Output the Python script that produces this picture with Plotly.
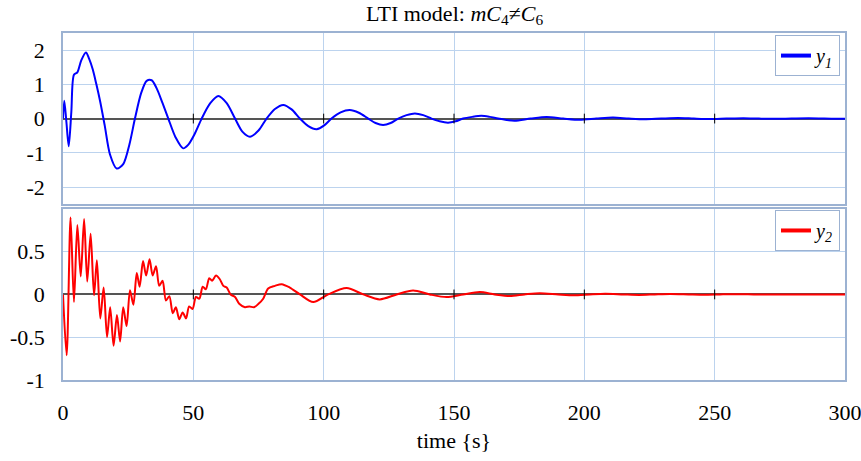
import plotly.graph_objects as go
from plotly.subplots import make_subplots

# ---- data ----
t1 = [0, 0.5, 1.3, 2.2, 3.2, 4.2, 5.5, 7.0, 8.8, 10.0, 11.4, 12.8, 14.2, 16.0, 18.0, 20.6, 23.1,
      25.5, 27.6, 30.0, 32.1, 34.0, 35.9, 38.2, 40.4, 43.2, 46.1, 48.0, 50.5, 53.2, 56.5, 59.6,
      62.8, 66.0, 68.8, 71.7, 75.0, 78.1, 81.3, 84.5, 87.7, 90.9, 94.1, 97.3, 100.2, 103.0,
      106.5, 110.0, 113.5, 117.1, 119.9, 122.8, 125.7, 128.6, 131.8, 135.0, 138.2, 141.4,
      144.5, 147.7, 150.6, 153.5, 157.0, 160.5, 163.7, 166.9, 170.1, 173.3, 179.4, 185.5,
      191.9, 198.2, 204.6, 211, 217, 223, 229.5, 236, 242, 248, 254.5, 261, 267, 273, 279.5,
      286, 292, 298, 300]
y1 = [0, 0.52, -0.1, -0.81, 0.2, 1.28, 1.35, 1.7, 1.93, 1.75, 1.44, 1.0, 0.52, -0.2, -1.04,
      -1.46, -1.33, -0.75, 0, 0.75, 1.10, 1.12, 0.89, 0.45, 0, -0.55, -0.87, -0.77, -0.45, 0,
      0.45, 0.66, 0.45, 0, -0.38, -0.53, -0.35, 0, 0.28, 0.40, 0.27, 0, -0.22, -0.31, -0.2, 0,
      0.18, 0.25, 0.17, 0, -0.13, -0.19, -0.13, 0, 0.1, 0.15, 0.1, 0, -0.08, -0.12, -0.08, 0,
      0.05, 0.08, 0.05, 0, -0.04, -0.06, 0, 0.045, 0, -0.035, 0, 0.03, 0, -0.022, 0, 0.018, 0,
      -0.014, 0, 0.011, 0, -0.008, 0, 0.006, 0, -0.005, -0.004]

t2 = [0, 1.4, 2.9, 4.2, 5.5, 6.8, 8.1, 9.3, 10.6, 11.9, 13.0, 14.3, 15.6, 16.9, 18.1, 19.4,
      20.7, 21.9, 23.1, 24.4, 25.7, 27.0, 28.3, 29.4, 30.7, 31.9, 33.2, 34.4, 35.7, 36.9, 38.2,
      39.5, 40.8, 42.1, 43.3, 44.6, 45.9, 47.2, 48.4, 49.7, 51.0, 52.3, 53.6, 54.8, 56.1, 57.2,
      58.7, 60.1, 61.5, 62.8, 64.3, 66.0, 67.6, 69.8, 71.5, 73.3, 75.0, 76.8, 78.7, 81.3, 83.9,
      87.0, 90.9, 96.0, 101.7, 108.8, 115.2, 121.5, 128.0, 134.3, 140.7, 147.1, 153.5, 159.9,
      165.6, 171.4, 177.0, 182.9, 190, 196, 202, 208, 215, 221, 227, 233, 240, 246, 252, 258,
      265, 271, 277, 300]
y2 = [0, -0.71, 0.90, -0.09, 0.81, 0.21, 0.88, 0.15, 0.71, -0.01, 0.40, -0.28, 0.08, -0.50,
      -0.15, -0.60, -0.24, -0.55, -0.15, -0.37, 0.05, -0.12, 0.25, 0.09, 0.39, 0.22, 0.41, 0.22,
      0.33, 0.10, 0.16, -0.07, -0.02, -0.22, -0.15, -0.29, -0.21, -0.28, -0.14, -0.17, -0.03,
      -0.05, 0.09, 0.06, 0.19, 0.16, 0.22, 0.18, 0.10, 0.08, 0, -0.03, -0.11, -0.15, -0.14,
      -0.15, -0.11, -0.05, 0.07, 0.10, 0.12, 0.08, 0, -0.09, 0, 0.074, 0, -0.058, 0, 0.047, 0,
      -0.031, 0, 0.027, 0, -0.018, 0, 0.015, 0, -0.01, 0, 0.008, 0, -0.006, 0, 0.005, 0,
      -0.004, 0, 0.003, 0, -0.002, 0, 0]

x_ticks = [0, 50, 100, 150, 200, 250, 300]
y1_ticks = [-2, -1, 0, 1, 2]
y1_labels = ["-2", "-1", "0", "1", "2"]
y2_ticks = [-1, -0.5, 0, 0.5]
y2_labels = ["-1", "-0.5", "0", "0.5"]
series_names = ["<i>y</i><sub><i>1</i></sub>", "<i>y</i><sub><i>2</i></sub>"]

FONT = "Liberation Serif"
GRID = "#bcd3ee"
BORDER = "#9cb2d2"
COLORS = ["#0000ff", "#ff0000"]

fig = make_subplots(rows=2, cols=1, shared_xaxes=True, vertical_spacing=0.0135)

for i, (tt, yy) in enumerate([(t1, y1), (t2, y2)]):
    fig.add_trace(go.Scatter(x=tt, y=yy, mode="lines",
                             line=dict(color=COLORS[i], width=2, shape="spline", smoothing=0.8),
                             showlegend=False, hoverinfo="x+y"), row=i + 1, col=1)
    # legend entry (thicker key line as in the reference)
    fig.add_trace(go.Scatter(x=[None], y=[None], mode="lines",
                             line=dict(color=COLORS[i], width=4),
                             name=series_names[i], legend="legend" if i == 0 else "legend2"),
                  row=i + 1, col=1)

inner = x_ticks[1:-1]
for r in (1, 2):
    fig.add_trace(go.Scatter(x=inner, y=[0] * len(inner), mode="markers",
                             marker=dict(symbol="line-ns", size=7, line=dict(color="black", width=1)),
                             showlegend=False, hoverinfo="skip"), row=r, col=1)

axis_common = dict(showline=True, mirror=True, linecolor=BORDER, linewidth=1.5,
                   showgrid=True, gridcolor=GRID, gridwidth=1, automargin=False,
                   tickfont=dict(family=FONT, size=22, color="black"), ticks="")

fig.update_xaxes(range=[0, 300], tickvals=x_ticks, zeroline=False, ticklabeloverflow="allow",
                 **axis_common)
fig.update_xaxes(showticklabels=False, row=1, col=1)
fig.update_xaxes(ticklabelstandoff=12, row=2, col=1,
                 title=dict(text="time {s}", font=dict(family=FONT, size=22, color="black"), standoff=8))

fig.update_yaxes(range=[-2.5, 2.5], tickvals=y1_ticks, ticktext=y1_labels, row=1, col=1,
                 zeroline=True, zerolinecolor="#555555", zerolinewidth=1.5,
                 ticklabelstandoff=12, **axis_common)
fig.update_yaxes(range=[-1, 1], tickvals=y2_ticks, ticktext=y2_labels, row=2, col=1,
                 zeroline=True, zerolinecolor="#555555", zerolinewidth=1.5,
                 ticklabelstandoff=12, **axis_common)

legend_style = dict(xanchor="right", yanchor="top", bordercolor=BORDER, borderwidth=1,
                    bgcolor="white", font=dict(family=FONT, size=20, color="black"),
                    itemwidth=30, tracegroupgap=0)

fig.update_layout(
    width=861, height=461,
    margin=dict(l=63, r=16, t=33, b=81, autoexpand=False),
    paper_bgcolor="white", plot_bgcolor="white",
    title=dict(text="LTI model: <i>mC</i><sub>4</sub>≠<i>C</i><sub>6</sub>",
               font=dict(family=FONT, size=22, color="black"),
               x=0.528, xanchor="center", y=0.972, yanchor="middle"),
    legend=dict(x=0.9936, y=0.994, **legend_style),
    legend2=dict(x=0.9936, y=0.49, **legend_style),
    showlegend=True,
)

# remove the default 8px page margin so the figure fills the 861x461 window exactly
fig.write_html("out.html", config={"displayModeBar": False},
               post_script="document.body.style.margin='0';")
